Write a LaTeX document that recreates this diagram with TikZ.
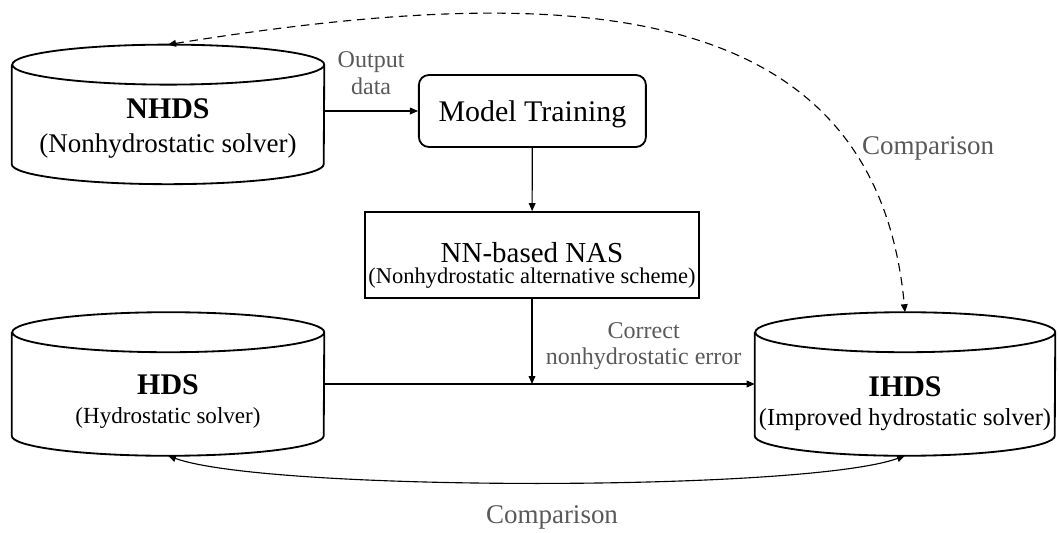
\documentclass[tikz,border=0pt]{standalone}
\usepackage{fontspec}
\setmainfont{Liberation Serif}
\usepackage{xcolor}
\usetikzlibrary{positioning, arrows.meta}
\definecolor{lblgray}{RGB}{89,89,89}

\tikzset{
  drum/.style={rectangle, inner sep=0pt},
  drumline/.style={line width=1.3pt},
  box/.style={draw, line width=1.3pt, inner sep=0pt, align=center},
  conn/.style={line width=0.8pt, ->},
  lbl/.style={text=lblgray, align=center, font=\fontsize{17.1}{19}\selectfont},
}

\begin{document}
\begin{tikzpicture}[>={Triangle[length=2mm,width=1.7mm]}]
 \useasboundingbox (0,0) rectangle (26.475,13.3);

 % solvers
 \node[drum, minimum width=7.8cm, minimum height=3.475cm] (nhds) at (4.2,10.44) {};
 \node[drum, minimum width=7.8cm, minimum height=3.575cm] (hds) at (4.2,3.7) {};
 \node[drum, minimum width=7.5cm, minimum height=3.575cm] (ihds) at (22.625,3.7) {};
 \foreach \n/\rx in {nhds/3.9, hds/3.9, ihds/3.75}
   \draw[drumline] ([yshift=-5mm]\n.north east) arc[start angle=0, end angle=360, x radius=\rx cm, y radius=5mm]
     ([yshift=-5mm]\n.north west) -- ([yshift=5mm]\n.south west)
     arc[start angle=180, end angle=360, x radius=\rx cm, y radius=5mm] -- ([yshift=-5mm]\n.north east);

 \node[align=center, font=\fontsize{19.2}{24.2}\selectfont] (nhdstxt) at ([yshift=-3.5mm]nhds.center)
   {{\fontsize{21.3}{24.2}\selectfont\bfseries NHDS}\\(Nonhydrostatic solver)};
 \node[align=center, font=\fontsize{16.4}{20.6}\selectfont] (hdstxt) at ([yshift=-4.4mm]hds.center)
   {{\fontsize{21.3}{20.6}\selectfont\bfseries HDS}\\(Hydrostatic solver)};
 \node[align=center, font=\fontsize{17.4}{20.6}\selectfont] (ihdstxt) at ([yshift=-5mm]ihds.center)
   {{\fontsize{21.3}{20.6}\selectfont\bfseries IHDS}\\(Improved hydrostatic solver)};

 % training and scheme
 \node[box, rounded corners=2.5mm, minimum width=5.675cm, minimum height=1.8cm, text depth=0pt,
   font=\fontsize{21.3}{24}\selectfont] (train) at (13.31,10.525) {Model Training};
 \node[box, minimum width=8.35cm, minimum height=2.15cm] (nas) at (13.3,6.925) {};
 \node[align=center, font=\fontsize{16}{15}\selectfont] (nastxt) at ([yshift=-2.5mm]nas.center)
   {{\fontsize{20.6}{15}\selectfont NN-based NAS}\\(Nonhydrostatic alternative scheme)};

 % connectors
 \draw[conn] (train.west -| nhds.east) -- node[lbl, above=2.8mm] (outlbl) {Output\\data} (train.west);
 \draw[conn] (train) -- (nas);
 \draw[conn] (hds) -- node[lbl, pos=0.742, above=2.2mm] (corrlbl) {Correct\\nonhydrostatic error} (ihds);
 \draw[conn] (nas) -- (nas |- hds.east);

 % comparisons
 \draw[line width=0.8pt, dash pattern=on 6pt off 4pt, <->] (nhds.north) .. controls +(9.8,1.575) and +(-0.75,8.05) .. (ihds.north);
 \draw[line width=0.8pt, <->] (hds.south) .. controls +(2.5,-0.9) and +(-2.5,-0.9) .. (ihds.south);
 \node[lbl, font=\fontsize{19.2}{22}\selectfont, anchor=base] (cmpup) at (23.2,9.425) {Comparison};
 \node[lbl, font=\fontsize{19.2}{22}\selectfont, anchor=base] (cmpdown) at (13.8,0.225) {Comparison};
\end{tikzpicture}
\end{document}
